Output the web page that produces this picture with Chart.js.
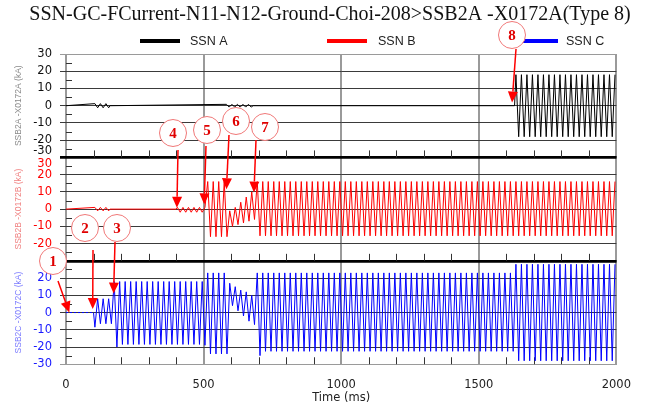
<!DOCTYPE html>
<html>
<head>
<meta charset="utf-8">
<script src="https://cdn.jsdelivr.net/npm/chart.js@4/dist/chart.umd.min.js"></script>
<style>
  html, body { margin: 0; padding: 0; background: #fff; }
  #wrap { width: 646px; height: 403px; }
</style>
</head>
<body>
<div id="wrap"><canvas id="myChart"></canvas></div>
<script>
const titleText = "SSN-GC-FCurrent-N11-N12-Ground-Choi-208>SSB2A -X0172A(Type 8)";
const seriesNames = ["SSN A", "SSN B", "SSN C"];
const axisTitles = ["SSB2A -X0172A (kA)", "SSB2B -X0172B (kA)", "SSB2C -X0172C (kA)"];
const timeTicks = [0, 500, 1000, 1500, 2000];
const currentTicks = [-30, -20, -10, 0, 10, 20, 30];

// 50 Hz -> one cycle is 20 ms
// rows: [start ms, cycles, first half-cycle value, second half-cycle value]
// cycles = 0 means just a level point at that time
const cycleMs = 20;

const ssnA = [
  [0, 0, 0, 0],
  [100, 3, 1.2, -1.2],
  [160, 0, 0, 0],
  [578, 5, 0.8, -0.8],
  [680, 0, 0, 0],
  [1630, 0, 0, 0],
  [1630, 18.5, 18, -18],
];

const ssnB = [
  [0, 0, 0, 0],
  [100, 3, 1, -1],
  [160, 0, 0, 0],
  [400, 0, 0, 0],
  [400, 5.5, 1, -1.8],
  [510, 4, 16, -16],
  [590, 1, -1, -10],
  [610, 1, 1, -9],
  [630, 1, 4, -8],
  [650, 1, 7, -7],
  [670, 1, 10, -6],
  [690, 65.5, 16, -15.5],
];

const ssnC = [
  [0, 0, 0, 0],
  [100, 0, 0, 0],
  [100, 1, -8.5, 8],
  [120, 2.5, -6.5, 8],
  [170, 0.5, 18, 0],
  [180, 1, -20, 18],
  [200, 15, -18.5, 18],
  [500, 0.5, -19, 0],
  [510, 4, 23, -24],
  [590, 1, 17, 4],
  [610, 1, 15, 1],
  [630, 1, 13, -2],
  [650, 1, 12, -5],
  [670, 1, 10, -7],
  [690, 1, 23, -25],
  [710, 46, 23, -22.5],
  [1630, 18.5, 28, -28],
];

// numbered markers: which panel the arrow points into, and where (time, kA)
const noteLabels = ["1", "2", "3", "4", "5", "6", "7", "8"];
const notePanels = [2, 2, 2, 1, 1, 1, 1, 0];
const noteTimes = [12, 97, 173, 403, 502, 583, 683, 1621];
const noteValues = [0, 2, 11, 0.8, 2.8, 11.5, 9.6, 1.8];

const axisIds = ["yA", "yB", "yC"];
const lineColors = ["#000000", "#ff0000", "#0000ff"];
const tickColors = ["#111111", "#ff0000", "#1a1aff"];
const titleColors = ["#8a8a8a", "#f08080", "#7b7bff"];

function buildPoints(rows) {
  const pts = [];
  rows.forEach(([t0, n, v1, v2]) => {
    if (n === 0) {
      pts.push({ x: t0, y: v1 });
      return;
    }
    for (let h = 0; h < n * 2; h++) {
      pts.push({ x: t0 + (h + 0.5) * cycleMs / 2, y: h % 2 ? v2 : v1 });
    }
  });
  return pts;
}

function tickLabel(i, v) {
  if (i === 0 && v === -30) return ["-30", ""];
  if (i === 1 && v === 30) return ["", "30"];
  if (i === 1 && v === -30) return "";
  if (i === 2 && v === 30) return "";
  return String(v);
}

function isSeparator(i, v) {
  return (i === 0 && v === -30) || i === 1 && (v === 30 || v === -30) || (i === 2 && v === 30);
}

function gridColor(i, v) {
  if (isSeparator(i, v)) return "#000";
  if (Math.abs(v) === 30) return "#9a9a9a";
  return "#3a3a3a";
}

function panelAxis(i) {
  return {
    type: "linear",
    position: "left",
    stack: "panels",
    stackWeight: 1,
    min: -30,
    max: 30,
    afterFit: (s) => { s.width = 66; },
    afterBuildTicks: (s) => { s.ticks = currentTicks.map((v) => ({ value: v })); },
    ticks: {
      color: tickColors[i],
      font: { family: "DejaVu Sans", size: 11.5 },
      padding: 8,
      autoSkip: false,
      callback: (v) => tickLabel(i, v),
    },
    grid: {
      color: (ctx) => gridColor(i, ctx.tick.value),
      lineWidth: (ctx) => (isSeparator(i, ctx.tick.value) ? 2.5 : 1),
      tickLength: 6,
    },
    border: { display: false },
    title: {
      display: true,
      text: axisTitles[i],
      color: titleColors[i],
      font: { family: "Liberation Sans", size: 8.5 },
      padding: { top: 13.5, bottom: 0 },
    },
  };
}

const noteLayout = [
  { cx: 53, cy: 261, sx: 58, sy: 281 },
  { cx: 85, cy: 228, sx: 93, sy: 250 },
  { cx: 117, cy: 228, sx: 115, sy: 242 },
  { cx: 173, cy: 133, sx: 178, sy: 150 },
  { cx: 207, cy: 130, sx: 206, sy: 146 },
  { cx: 236, cy: 121, sx: 229, sy: 135 },
  { cx: 265, cy: 127, sx: 256, sy: 140 },
  { cx: 512, cy: 35, sx: 516, sy: 49 },
];

const legendLayout = [
  { x0: 140, x1: 180, tx: 190 },
  { x0: 327, x1: 367, tx: 378 },
  { x0: 518, x1: 558, tx: 566 },
];

const decorations = {
  id: "decorations",
  beforeDatasetsDraw(chart) {
    const ctx = chart.ctx;
    const x = chart.scales.x;
    ctx.save();
    ctx.strokeStyle = "#333";
    ctx.lineWidth = 1;
    axisIds.forEach((id) => {
      const y = chart.scales[id];
      // minor ticks on the current axis
      [-25, -15, -5, 5, 15, 25].forEach((v) => {
        const py = Math.round(y.getPixelForValue(v)) + 0.5;
        ctx.beginPath();
        ctx.moveTo(x.left, py);
        ctx.lineTo(x.left + 6, py);
        ctx.stroke();
      });
      // minor ticks on the time axis, bottom of every panel
      for (let t = 100; t < 2000; t += 100) {
        if (t % 500 === 0) continue;
        const px = Math.round(x.getPixelForValue(t)) + 0.5;
        ctx.beginPath();
        ctx.moveTo(px, y.bottom);
        ctx.lineTo(px, y.bottom - 7);
        ctx.stroke();
      }
    });
    ctx.restore();
  },
  afterDraw(chart) {
    const ctx = chart.ctx;
    const x = chart.scales.x;
    ctx.save();

    ctx.fillStyle = "#111";
    ctx.font = '20px "Liberation Serif"';
    ctx.textAlign = "center";
    ctx.textBaseline = "middle";
    ctx.fillText(titleText, 330, 15);

    ctx.font = '12.5px "Liberation Sans"';
    ctx.textAlign = "left";
    legendLayout.forEach((l, i) => {
      ctx.strokeStyle = lineColors[i];
      ctx.lineWidth = 4;
      ctx.beginPath();
      ctx.moveTo(l.x0, 41);
      ctx.lineTo(l.x1, 41);
      ctx.stroke();
      ctx.fillStyle = "#222";
      ctx.fillText(seriesNames[i], l.tx, 42);
    });

    noteLabels.forEach((label, i) => {
      const lay = noteLayout[i];
      const tx = x.getPixelForValue(noteTimes[i]);
      const ty = chart.scales[axisIds[notePanels[i]]].getPixelForValue(noteValues[i]);
      const ang = Math.atan2(ty - lay.sy, tx - lay.sx);
      const len = 11;
      const bx = tx - Math.cos(ang) * len;
      const by = ty - Math.sin(ang) * len;
      ctx.strokeStyle = "#ff0000";
      ctx.fillStyle = "#ff0000";
      ctx.lineWidth = 1.5;
      ctx.beginPath();
      ctx.moveTo(lay.sx, lay.sy);
      ctx.lineTo(bx, by);
      ctx.stroke();
      ctx.beginPath();
      ctx.moveTo(tx, ty);
      ctx.lineTo(bx + Math.sin(ang) * 5, by - Math.cos(ang) * 5);
      ctx.lineTo(bx - Math.sin(ang) * 5, by + Math.cos(ang) * 5);
      ctx.closePath();
      ctx.fill();

      ctx.beginPath();
      ctx.arc(lay.cx, lay.cy, 13.5, 0, Math.PI * 2);
      ctx.fillStyle = "#fff";
      ctx.fill();
      ctx.strokeStyle = "#f07878";
      ctx.lineWidth = 1;
      ctx.stroke();
      ctx.fillStyle = "#e00000";
      ctx.font = 'bold 15px "Liberation Serif"';
      ctx.textAlign = "center";
      ctx.textBaseline = "middle";
      ctx.fillText(label, lay.cx, lay.cy + 1);
    });
    ctx.restore();
  },
};

const datasets = [ssnA, ssnB, ssnC].map((rows, i) => ({
  label: seriesNames[i],
  data: buildPoints(rows),
  yAxisID: axisIds[i],
  borderColor: lineColors[i],
  borderWidth: 1,
  pointRadius: 0,
  tension: 0,
  segment: i === 2 ? { borderDash: (c) => (c.p0.parsed.x < 100 ? [2, 2] : undefined) } : undefined,
}));

const config = {
  type: "line",
  data: { datasets: datasets },
  options: {
    responsive: true,
    maintainAspectRatio: false,
    animation: false,
    parsing: false,
    layout: { padding: { top: 54, right: 25, bottom: -0.5, left: 0 } },
    plugins: {
      legend: { display: false },
      title: { display: false },
      tooltip: { enabled: false },
    },
    scales: {
      x: {
        type: "linear",
        min: 0,
        max: 2000,
        afterBuildTicks: (s) => { s.ticks = timeTicks.map((v) => ({ value: v })); },
        ticks: {
          color: "#222",
          font: { family: "DejaVu Sans", size: 11.5, lineHeight: 1 },
          padding: 15,
          maxRotation: 0,
          autoSkip: false,
          callback: (v) => String(v),
        },
        grid: { color: "#9a9a9a", lineWidth: 2, drawTicks: false },
        border: { color: "#9a9a9a", width: 1 },
        title: {
          display: true,
          text: "Time (ms)",
          color: "#222",
          font: { family: "DejaVu Sans", size: 11.5, lineHeight: 1 },
          // tick padding counts twice in the axis height, pull the box back
          padding: { top: -13.75, bottom: 0 },
        },
      },
      // stacked axes are placed bottom-up in the order listed
      yC: panelAxis(2),
      yB: panelAxis(1),
      yA: panelAxis(0),
    },
  },
  plugins: [decorations],
};

const chart = new Chart(document.getElementById("myChart"), config);
</script>
</body>
</html>
